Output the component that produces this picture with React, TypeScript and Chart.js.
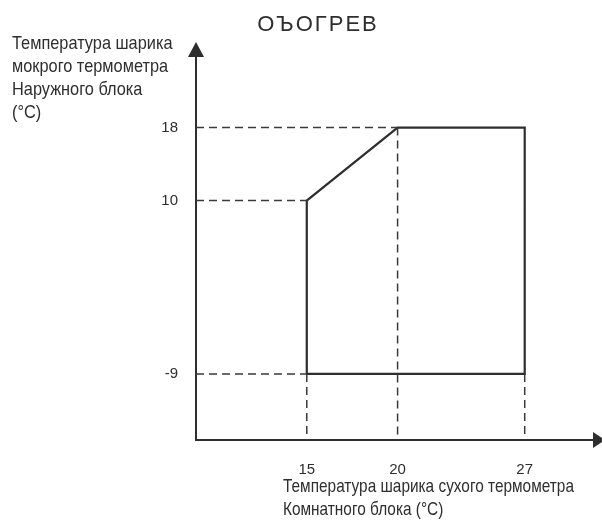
import React, { useEffect, useRef } from 'react';
import { Chart, registerables } from 'chart.js';

Chart.register(...registerables);

// ---- data ----
const chartTitle = 'ОЪОГРЕВ';
const xTickValues = [15, 20, 27];
const yTickValues = [-9, 10, 18];
// operating zone outline (dry-bulb indoor, wet-bulb outdoor)
const zoneX = [15, 15, 20, 27, 27, 15];
const zoneY = [-9, 10, 18, 18, -9, -9];
// dashed guides: horizontal from the y axis to the zone, vertical from the zone to the x axis
const guideHY = [18, 10, -9];
const guideHX = [20, 15, 15];
const guideVX = [15, 20, 27];
const guideVY = [-9, 18, -9];
const yTitleLines = ['Температура шарика', 'мокрого термометра', 'Наружного блока', '(°C)'];
const xTitleLines = ['Температура шарика сухого термометра', 'Комнатного блока (°C)'];

const X_MIN = 8.9;
const X_MAX = 30.76;
const Y_MIN = -16.24;
const Y_MAX = 25.73;

const INK = '#2e2e2e';

const decorPlugin = {
  id: 'decor',
  afterDraw(chart: any) {
    const ctx = chart.ctx as CanvasRenderingContext2D;
    const a = chart.chartArea;
    ctx.save();
    ctx.fillStyle = INK;
    // y arrow
    ctx.beginPath();
    ctx.moveTo(a.left, a.top - 15);
    ctx.lineTo(a.left - 8, a.top);
    ctx.lineTo(a.left + 8, a.top);
    ctx.closePath();
    ctx.fill();
    // x arrow
    ctx.beginPath();
    ctx.moveTo(a.right + 12, a.bottom);
    ctx.lineTo(a.right, a.bottom - 8);
    ctx.lineTo(a.right, a.bottom + 8);
    ctx.closePath();
    ctx.fill();

    // title
    ctx.font = '22px "Liberation Sans", Arial, sans-serif';
    (ctx as any).letterSpacing = '2px';
    ctx.textAlign = 'center';
    ctx.textBaseline = 'alphabetic';
    ctx.fillText(chartTitle, 318, 31);
    (ctx as any).letterSpacing = '0px';

    // axis titles (condensed)
    ctx.textAlign = 'left';
    ctx.font = '19px "Liberation Sans", Arial, sans-serif';
    yTitleLines.forEach((line, i) => {
      ctx.save();
      ctx.translate(12, 49 + i * 23);
      ctx.scale(0.86, 1);
      ctx.fillText(line, 0, 0);
      ctx.restore();
    });
    xTitleLines.forEach((line, i) => {
      ctx.save();
      ctx.translate(283, 492 + i * 23);
      ctx.scale(0.81, 1);
      ctx.fillText(line, 0, 0);
      ctx.restore();
    });
    ctx.restore();
  },
};

export default function App() {
  const ref = useRef<HTMLCanvasElement | null>(null);

  useEffect(() => {
    if (!ref.current) return;
    const dashed = { borderColor: '#3a3a3a', borderWidth: 1.5, borderDash: [8, 5], pointRadius: 0, showLine: true, fill: false, tension: 0 };
    const datasets: any[] = [];
    guideHY.forEach((y, i) => {
      datasets.push({ ...dashed, data: [{ x: X_MIN, y }, { x: guideHX[i], y }] });
    });
    guideVX.forEach((x, i) => {
      datasets.push({ ...dashed, data: [{ x, y: guideVY[i] }, { x, y: Y_MIN }] });
    });
    datasets.push({
      data: zoneX.map((x, i) => ({ x, y: zoneY[i] })),
      borderColor: INK,
      borderWidth: 2.2,
      pointRadius: 0,
      showLine: true,
      fill: false,
      tension: 0,
    });

    const tickFont = { family: '"Liberation Sans", Arial, sans-serif', size: 15 };
    const chart = new Chart(ref.current, {
      type: 'scatter',
      data: { datasets },
      plugins: [decorPlugin],
      options: {
        animation: false,
        responsive: false,
        layout: { padding: { left: 146, top: 57, right: 9, bottom: 0 } },
        plugins: { legend: { display: false }, tooltip: { enabled: false }, title: { display: false } },
        scales: {
          x: {
            type: 'linear',
            min: X_MIN,
            max: X_MAX,
            afterBuildTicks: (s: any) => { s.ticks = xTickValues.map((v) => ({ value: v })); },
            afterFit: (s: any) => { s.height = 89; },
            grid: { display: false, drawTicks: false },
            border: { display: true, color: INK, width: 2 },
            ticks: { autoSkip: false, maxRotation: 0, padding: 21, color: INK, font: tickFont, callback: (v: any) => String(v) },
          },
          y: {
            type: 'linear',
            min: Y_MIN,
            max: Y_MAX,
            afterBuildTicks: (s: any) => { s.ticks = yTickValues.map((v) => ({ value: v })); },
            afterFit: (s: any) => { s.width = 50; },
            grid: { display: false, drawTicks: false },
            border: { display: true, color: INK, width: 2 },
            ticks: { autoSkip: false, padding: 18, color: INK, font: tickFont, callback: (v: any) => String(v) },
          },
        },
      },
    });
    return () => chart.destroy();
  }, []);

  return (
    <div style={{ position: 'fixed', left: 0, top: 0, width: 602, height: 529, background: '#fff' }}>
      <canvas ref={ref} width={602} height={529} />
    </div>
  );
}
